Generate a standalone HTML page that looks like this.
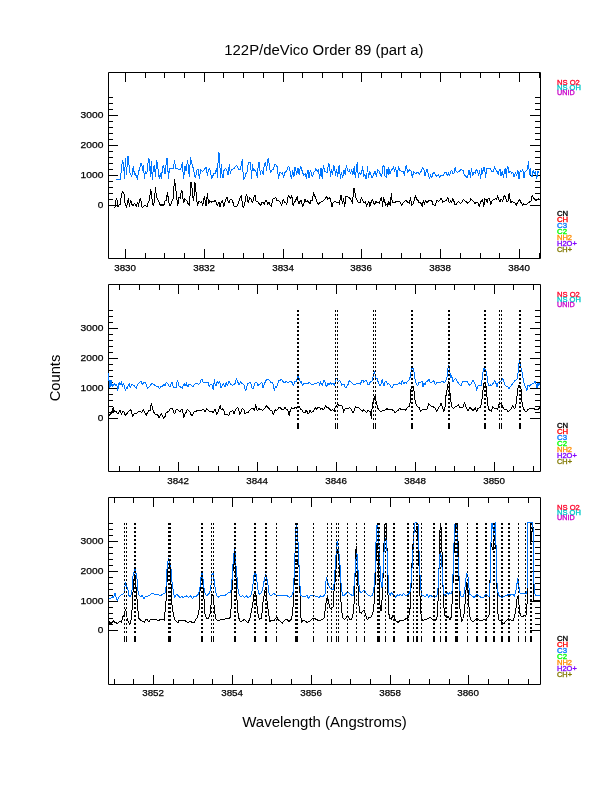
<!DOCTYPE html><html><head><meta charset="utf-8"><style>html,body{margin:0;padding:0;background:#fff;}svg{display:block;}</style></head><body>
<svg width="612" height="792" viewBox="0 0 612 792">
<rect width="612" height="792" fill="#fff"/>
<text x="323.9" y="54.6" font-family='"Liberation Sans", Helvetica, Arial, sans-serif' font-size="14.9" text-anchor="middle" fill="#000">122P/deVico Order 89 (part a)</text>
<text x="324.5" y="726.6" font-family='"Liberation Sans", Helvetica, Arial, sans-serif' font-size="15" text-anchor="middle" fill="#000">Wavelength (Angstroms)</text>
<text transform="translate(60.3,378) rotate(-90)" x="0" y="0" font-family='"Liberation Sans", Helvetica, Arial, sans-serif' font-size="14.7" text-anchor="middle" fill="#000">Counts</text>
<path d="M108.5,72.5H540.5V258.5H108.5Z" fill="none" stroke="#000" stroke-width="1"/><path d="M125.5,72.5v9.5M125.5,258.5v-9.5M145.5,72.5v5.5M145.5,258.5v-5.5M164.5,72.5v5.5M164.5,258.5v-5.5M184.5,72.5v5.5M184.5,258.5v-5.5M204.5,72.5v9.5M204.5,258.5v-9.5M223.5,72.5v5.5M223.5,258.5v-5.5M243.5,72.5v5.5M243.5,258.5v-5.5M263.5,72.5v5.5M263.5,258.5v-5.5M283.5,72.5v9.5M283.5,258.5v-9.5M302.5,72.5v5.5M302.5,258.5v-5.5M322.5,72.5v5.5M322.5,258.5v-5.5M342.5,72.5v5.5M342.5,258.5v-5.5M361.5,72.5v9.5M361.5,258.5v-9.5M381.5,72.5v5.5M381.5,258.5v-5.5M401.5,72.5v5.5M401.5,258.5v-5.5M420.5,72.5v5.5M420.5,258.5v-5.5M440.5,72.5v9.5M440.5,258.5v-9.5M460.5,72.5v5.5M460.5,258.5v-5.5M480.5,72.5v5.5M480.5,258.5v-5.5M499.5,72.5v5.5M499.5,258.5v-5.5M519.5,72.5v9.5M519.5,258.5v-9.5M539.5,72.5v5.5M539.5,258.5v-5.5M108.5,205.5h9.5M540.5,205.5h-10.5M108.5,199.5h4.5M540.5,199.5h-5.5M108.5,193.5h4.5M540.5,193.5h-5.5M108.5,187.5h4.5M540.5,187.5h-5.5M108.5,181.5h4.5M540.5,181.5h-5.5M108.5,175.5h9.5M540.5,175.5h-10.5M108.5,169.5h4.5M540.5,169.5h-5.5M108.5,163.5h4.5M540.5,163.5h-5.5M108.5,157.5h4.5M540.5,157.5h-5.5M108.5,151.5h4.5M540.5,151.5h-5.5M108.5,145.5h9.5M540.5,145.5h-10.5M108.5,139.5h4.5M540.5,139.5h-5.5M108.5,133.5h4.5M540.5,133.5h-5.5M108.5,127.5h4.5M540.5,127.5h-5.5M108.5,121.5h4.5M540.5,121.5h-5.5M108.5,115.5h9.5M540.5,115.5h-10.5M108.5,109.5h4.5M540.5,109.5h-5.5M108.5,103.5h4.5M540.5,103.5h-5.5M108.5,97.5h4.5M540.5,97.5h-5.5" fill="none" stroke="#000" stroke-width="1"/><text x="125.1" y="271.4" font-family='"Liberation Sans", Helvetica, Arial, sans-serif' font-size="9.8" text-anchor="middle" textLength="21.8" lengthAdjust="spacingAndGlyphs" stroke="#000" stroke-width="0.25">3830</text><text x="204.1" y="271.4" font-family='"Liberation Sans", Helvetica, Arial, sans-serif' font-size="9.8" text-anchor="middle" textLength="21.8" lengthAdjust="spacingAndGlyphs" stroke="#000" stroke-width="0.25">3832</text><text x="283.1" y="271.4" font-family='"Liberation Sans", Helvetica, Arial, sans-serif' font-size="9.8" text-anchor="middle" textLength="21.8" lengthAdjust="spacingAndGlyphs" stroke="#000" stroke-width="0.25">3834</text><text x="361.1" y="271.4" font-family='"Liberation Sans", Helvetica, Arial, sans-serif' font-size="9.8" text-anchor="middle" textLength="21.8" lengthAdjust="spacingAndGlyphs" stroke="#000" stroke-width="0.25">3836</text><text x="440.1" y="271.4" font-family='"Liberation Sans", Helvetica, Arial, sans-serif' font-size="9.8" text-anchor="middle" textLength="21.8" lengthAdjust="spacingAndGlyphs" stroke="#000" stroke-width="0.25">3838</text><text x="519.1" y="271.4" font-family='"Liberation Sans", Helvetica, Arial, sans-serif' font-size="9.8" text-anchor="middle" textLength="21.8" lengthAdjust="spacingAndGlyphs" stroke="#000" stroke-width="0.25">3840</text><text x="103.4" y="208.4" font-family='"Liberation Sans", Helvetica, Arial, sans-serif' font-size="9.8" text-anchor="end" textLength="5.6" lengthAdjust="spacingAndGlyphs" stroke="#000" stroke-width="0.25">0</text><text x="103.4" y="178.4" font-family='"Liberation Sans", Helvetica, Arial, sans-serif' font-size="9.8" text-anchor="end" textLength="22.8" lengthAdjust="spacingAndGlyphs" stroke="#000" stroke-width="0.25">1000</text><text x="103.4" y="148.4" font-family='"Liberation Sans", Helvetica, Arial, sans-serif' font-size="9.8" text-anchor="end" textLength="22.8" lengthAdjust="spacingAndGlyphs" stroke="#000" stroke-width="0.25">2000</text><text x="103.4" y="118.4" font-family='"Liberation Sans", Helvetica, Arial, sans-serif' font-size="9.8" text-anchor="end" textLength="22.8" lengthAdjust="spacingAndGlyphs" stroke="#000" stroke-width="0.25">3000</text>
<path d="M108.5,284.5H540.5V471.5H108.5Z" fill="none" stroke="#000" stroke-width="1"/><path d="M119.5,284.5v5.5M119.5,471.5v-5.5M139.5,284.5v5.5M139.5,471.5v-5.5M159.5,284.5v5.5M159.5,471.5v-5.5M178.5,284.5v9.5M178.5,471.5v-9.5M198.5,284.5v5.5M198.5,471.5v-5.5M218.5,284.5v5.5M218.5,471.5v-5.5M238.5,284.5v5.5M238.5,471.5v-5.5M257.5,284.5v9.5M257.5,471.5v-9.5M277.5,284.5v5.5M277.5,471.5v-5.5M297.5,284.5v5.5M297.5,471.5v-5.5M316.5,284.5v5.5M316.5,471.5v-5.5M336.5,284.5v9.5M336.5,471.5v-9.5M356.5,284.5v5.5M356.5,471.5v-5.5M376.5,284.5v5.5M376.5,471.5v-5.5M395.5,284.5v5.5M395.5,471.5v-5.5M415.5,284.5v9.5M415.5,471.5v-9.5M435.5,284.5v5.5M435.5,471.5v-5.5M454.5,284.5v5.5M454.5,471.5v-5.5M474.5,284.5v5.5M474.5,471.5v-5.5M494.5,284.5v9.5M494.5,471.5v-9.5M513.5,284.5v5.5M513.5,471.5v-5.5M533.5,284.5v5.5M533.5,471.5v-5.5M108.5,418.5h9.5M540.5,418.5h-10.5M108.5,412.5h4.5M540.5,412.5h-5.5M108.5,406.5h4.5M540.5,406.5h-5.5M108.5,400.5h4.5M540.5,400.5h-5.5M108.5,394.5h4.5M540.5,394.5h-5.5M108.5,388.5h9.5M540.5,388.5h-10.5M108.5,382.5h4.5M540.5,382.5h-5.5M108.5,376.5h4.5M540.5,376.5h-5.5M108.5,370.5h4.5M540.5,370.5h-5.5M108.5,364.5h4.5M540.5,364.5h-5.5M108.5,358.5h9.5M540.5,358.5h-10.5M108.5,352.5h4.5M540.5,352.5h-5.5M108.5,346.5h4.5M540.5,346.5h-5.5M108.5,340.5h4.5M540.5,340.5h-5.5M108.5,334.5h4.5M540.5,334.5h-5.5M108.5,328.5h9.5M540.5,328.5h-10.5M108.5,322.5h4.5M540.5,322.5h-5.5M108.5,316.5h4.5M540.5,316.5h-5.5M108.5,310.5h4.5M540.5,310.5h-5.5" fill="none" stroke="#000" stroke-width="1"/><text x="178.1" y="484.4" font-family='"Liberation Sans", Helvetica, Arial, sans-serif' font-size="9.8" text-anchor="middle" textLength="21.8" lengthAdjust="spacingAndGlyphs" stroke="#000" stroke-width="0.25">3842</text><text x="257.1" y="484.4" font-family='"Liberation Sans", Helvetica, Arial, sans-serif' font-size="9.8" text-anchor="middle" textLength="21.8" lengthAdjust="spacingAndGlyphs" stroke="#000" stroke-width="0.25">3844</text><text x="336.1" y="484.4" font-family='"Liberation Sans", Helvetica, Arial, sans-serif' font-size="9.8" text-anchor="middle" textLength="21.8" lengthAdjust="spacingAndGlyphs" stroke="#000" stroke-width="0.25">3846</text><text x="415.1" y="484.4" font-family='"Liberation Sans", Helvetica, Arial, sans-serif' font-size="9.8" text-anchor="middle" textLength="21.8" lengthAdjust="spacingAndGlyphs" stroke="#000" stroke-width="0.25">3848</text><text x="494.1" y="484.4" font-family='"Liberation Sans", Helvetica, Arial, sans-serif' font-size="9.8" text-anchor="middle" textLength="21.8" lengthAdjust="spacingAndGlyphs" stroke="#000" stroke-width="0.25">3850</text><text x="103.4" y="421.4" font-family='"Liberation Sans", Helvetica, Arial, sans-serif' font-size="9.8" text-anchor="end" textLength="5.6" lengthAdjust="spacingAndGlyphs" stroke="#000" stroke-width="0.25">0</text><text x="103.4" y="391.4" font-family='"Liberation Sans", Helvetica, Arial, sans-serif' font-size="9.8" text-anchor="end" textLength="22.8" lengthAdjust="spacingAndGlyphs" stroke="#000" stroke-width="0.25">1000</text><text x="103.4" y="361.4" font-family='"Liberation Sans", Helvetica, Arial, sans-serif' font-size="9.8" text-anchor="end" textLength="22.8" lengthAdjust="spacingAndGlyphs" stroke="#000" stroke-width="0.25">2000</text><text x="103.4" y="331.4" font-family='"Liberation Sans", Helvetica, Arial, sans-serif' font-size="9.8" text-anchor="end" textLength="22.8" lengthAdjust="spacingAndGlyphs" stroke="#000" stroke-width="0.25">3000</text>
<path d="M108.5,497.5H540.5V684.5H108.5Z" fill="none" stroke="#000" stroke-width="1"/><path d="M114.5,497.5v5.5M114.5,684.5v-5.5M133.5,497.5v5.5M133.5,684.5v-5.5M153.5,497.5v9.5M153.5,684.5v-9.5M173.5,497.5v5.5M173.5,684.5v-5.5M193.5,497.5v5.5M193.5,684.5v-5.5M212.5,497.5v5.5M212.5,684.5v-5.5M232.5,497.5v9.5M232.5,684.5v-9.5M252.5,497.5v5.5M252.5,684.5v-5.5M271.5,497.5v5.5M271.5,684.5v-5.5M291.5,497.5v5.5M291.5,684.5v-5.5M311.5,497.5v9.5M311.5,684.5v-9.5M331.5,497.5v5.5M331.5,684.5v-5.5M350.5,497.5v5.5M350.5,684.5v-5.5M370.5,497.5v5.5M370.5,684.5v-5.5M390.5,497.5v9.5M390.5,684.5v-9.5M409.5,497.5v5.5M409.5,684.5v-5.5M429.5,497.5v5.5M429.5,684.5v-5.5M449.5,497.5v5.5M449.5,684.5v-5.5M468.5,497.5v9.5M468.5,684.5v-9.5M488.5,497.5v5.5M488.5,684.5v-5.5M508.5,497.5v5.5M508.5,684.5v-5.5M528.5,497.5v5.5M528.5,684.5v-5.5M108.5,630.5h9.5M540.5,630.5h-10.5M108.5,624.5h4.5M540.5,624.5h-5.5M108.5,618.5h4.5M540.5,618.5h-5.5M108.5,613.5h4.5M540.5,613.5h-5.5M108.5,607.5h4.5M540.5,607.5h-5.5M108.5,601.5h9.5M540.5,601.5h-10.5M108.5,595.5h4.5M540.5,595.5h-5.5M108.5,589.5h4.5M540.5,589.5h-5.5M108.5,583.5h4.5M540.5,583.5h-5.5M108.5,577.5h4.5M540.5,577.5h-5.5M108.5,571.5h9.5M540.5,571.5h-10.5M108.5,565.5h4.5M540.5,565.5h-5.5M108.5,559.5h4.5M540.5,559.5h-5.5M108.5,553.5h4.5M540.5,553.5h-5.5M108.5,547.5h4.5M540.5,547.5h-5.5M108.5,541.5h9.5M540.5,541.5h-10.5M108.5,535.5h4.5M540.5,535.5h-5.5M108.5,529.5h4.5M540.5,529.5h-5.5M108.5,523.5h4.5M540.5,523.5h-5.5" fill="none" stroke="#000" stroke-width="1"/><text x="153.1" y="696.4" font-family='"Liberation Sans", Helvetica, Arial, sans-serif' font-size="9.8" text-anchor="middle" textLength="21.8" lengthAdjust="spacingAndGlyphs" stroke="#000" stroke-width="0.25">3852</text><text x="232.1" y="696.4" font-family='"Liberation Sans", Helvetica, Arial, sans-serif' font-size="9.8" text-anchor="middle" textLength="21.8" lengthAdjust="spacingAndGlyphs" stroke="#000" stroke-width="0.25">3854</text><text x="311.1" y="696.4" font-family='"Liberation Sans", Helvetica, Arial, sans-serif' font-size="9.8" text-anchor="middle" textLength="21.8" lengthAdjust="spacingAndGlyphs" stroke="#000" stroke-width="0.25">3856</text><text x="390.1" y="696.4" font-family='"Liberation Sans", Helvetica, Arial, sans-serif' font-size="9.8" text-anchor="middle" textLength="21.8" lengthAdjust="spacingAndGlyphs" stroke="#000" stroke-width="0.25">3858</text><text x="468.1" y="696.4" font-family='"Liberation Sans", Helvetica, Arial, sans-serif' font-size="9.8" text-anchor="middle" textLength="21.8" lengthAdjust="spacingAndGlyphs" stroke="#000" stroke-width="0.25">3860</text><text x="103.4" y="633.4" font-family='"Liberation Sans", Helvetica, Arial, sans-serif' font-size="9.8" text-anchor="end" textLength="5.6" lengthAdjust="spacingAndGlyphs" stroke="#000" stroke-width="0.25">0</text><text x="103.4" y="604.4" font-family='"Liberation Sans", Helvetica, Arial, sans-serif' font-size="9.8" text-anchor="end" textLength="22.8" lengthAdjust="spacingAndGlyphs" stroke="#000" stroke-width="0.25">1000</text><text x="103.4" y="574.4" font-family='"Liberation Sans", Helvetica, Arial, sans-serif' font-size="9.8" text-anchor="end" textLength="22.8" lengthAdjust="spacingAndGlyphs" stroke="#000" stroke-width="0.25">2000</text><text x="103.4" y="544.4" font-family='"Liberation Sans", Helvetica, Arial, sans-serif' font-size="9.8" text-anchor="end" textLength="22.8" lengthAdjust="spacingAndGlyphs" stroke="#000" stroke-width="0.25">3000</text>
<path d="M114.2,207.4L115.4,206.6L116.2,198.4L117.0,200.1L117.7,206.6L118.7,205.8L119.5,204.6L120.3,204.2L121.5,194.3L122.8,191.9L124.0,193.5L125.2,204.2L126.5,207.4L127.7,201.7L128.5,197.6L129.3,206.6L130.6,200.1L131.8,204.2L133.0,205.8L134.3,203.3L135.5,205.0L136.3,206.6L137.6,202.1L138.4,206.6L139.6,200.1L140.7,198.4L141.7,206.6L142.5,207.4L144.1,205.8L145.8,205.8L147.0,206.6L148.1,202.5L149.1,200.9L149.9,196.0L150.5,189.4L151.3,191.9L152.3,202.5L153.6,206.2L154.6,197.6L155.5,187.3L156.4,196.8L158.5,200.9L160.5,205.8L162.2,204.2L163.6,206.2L164.9,200.9L166.3,200.1L167.5,191.9L168.7,202.5L170.0,205.8L171.6,202.5L173.2,198.4L174.5,179.5L175.3,184.5L176.5,196.0L177.8,205.8L179.0,196.8L180.2,198.4L181.5,190.2L182.3,191.9L183.5,203.3L184.7,199.2L186.8,200.9L188.4,204.2L189.7,205.8L190.5,182.0L191.7,182.0L192.5,196.0L193.8,200.9L194.6,182.0L195.4,184.5L196.6,199.2L197.5,206.2L198.7,200.9L200.3,202.5L201.6,201.3L202.8,205.8L204.4,196.0L206.1,206.2L207.4,192.7L208.5,204.2L209.7,200.9L211.8,202.1L213.4,201.7L215.1,200.5L216.3,202.5L217.5,205.8L218.8,201.7L220.0,206.6L221.2,202.5L222.5,200.1L223.7,206.6L225.3,200.9L227.0,196.8L227.8,200.1L228.6,203.3L230.3,199.7L232.3,200.1L234.0,205.8L236.0,207.0L237.7,205.0L240.1,197.6L241.4,195.5L242.6,206.6L243.4,207.4L244.6,204.2L245.9,196.0L246.7,194.7L248.3,203.3L249.6,197.6L251.2,199.2L252.4,203.3L253.2,200.1L254.5,194.7L255.3,196.0L256.1,201.7L257.7,201.3L259.4,204.2L260.6,205.4L261.9,202.5L263.5,202.5L264.3,205.0L265.5,200.5L266.8,200.5L267.6,205.0L268.8,201.7L270.1,205.0L271.3,206.6L272.9,199.2L274.2,198.4L275.8,197.6L276.6,200.1L278.3,200.9L279.5,201.3L280.7,202.5L281.6,205.8L282.8,200.1L283.6,199.2L284.4,202.5L285.7,202.5L286.9,204.6L287.3,198.4L288.5,195.5L289.8,196.8L290.6,199.2L291.8,195.5L293.1,205.8L294.3,202.5L295.5,200.9L297.2,196.4L298.0,200.9L299.2,204.2L300.4,200.1L301.2,200.1L302.5,206.6L303.7,204.2L304.9,199.2L306.2,202.1L307.8,200.9L309.0,202.5L309.9,204.2L311.1,200.1L312.3,201.3L313.5,192.3L314.8,196.0L316.0,199.2L317.2,202.5L318.9,204.2L320.1,202.1L322.2,201.7L323.8,200.5L325.5,198.4L326.7,196.4L327.9,199.2L329.6,197.6L330.8,200.5L332.0,206.6L333.3,202.5L334.5,201.3L336.1,202.1L337.8,202.5L339.0,202.1L339.4,204.6L340.6,196.0L341.5,195.1L342.3,204.2L343.5,198.4L344.7,206.6L346.0,196.0L347.2,196.0L348.4,197.6L349.2,197.6L350.5,199.2L351.7,200.9L352.5,203.8L353.7,188.2L354.6,188.2L355.4,196.8L357.0,200.1L358.3,202.5L360.3,202.1L361.5,197.6L362.8,200.9L364.0,202.5L365.7,201.7L366.5,206.6L367.7,203.3L368.9,200.9L369.8,206.6L371.0,202.5L372.2,199.2L373.5,202.5L374.7,205.0L375.9,200.9L377.1,202.5L378.4,202.5L379.6,203.3L380.4,198.4L381.7,197.6L382.5,206.6L383.5,197.6L384.5,200.9L385.8,205.0L387.2,204.2L387.8,206.6L388.6,201.7L389.5,202.5L390.3,205.8L391.3,193.1L392.3,202.5L394.0,202.5L396.4,201.7L397.6,201.7L399.3,201.3L400.5,202.5L401.7,205.4L403.0,202.9L404.2,201.7L405.7,200.1L407.1,201.7L408.3,202.5L409.5,203.3L410.6,197.2L411.6,205.4L412.8,204.2L414.1,200.9L415.7,195.1L416.5,199.2L417.8,200.1L419.0,202.5L420.6,202.5L422.3,206.6L423.5,199.7L424.3,204.6L425.6,199.7L426.8,202.5L428.4,200.9L429.7,200.5L431.7,200.5L432.9,204.2L433.9,205.0L435.4,205.0L436.6,200.5L438.3,201.3L439.5,200.9L440.7,198.4L442.0,199.7L442.8,202.1L444.4,201.7L445.2,200.9L446.5,200.1L447.7,197.2L448.5,200.1L449.3,203.3L450.6,200.9L451.8,202.5L452.6,198.4L453.4,199.2L454.7,204.2L456.3,204.2L457.5,202.5L458.8,201.3L460.0,203.3L461.7,202.9L463.3,199.2L464.5,200.9L466.2,201.7L467.8,203.3L469.5,201.7L470.7,199.2L472.3,200.5L473.6,201.3L474.8,204.2L476.0,202.5L477.7,202.5L479.3,206.6L480.5,202.5L481.8,200.1L482.6,199.2L483.8,206.6L484.6,198.8L485.9,199.2L487.1,202.5L488.3,198.4L489.6,198.4L490.8,205.0L492.0,200.9L493.6,199.7L495.3,198.8L496.5,199.2L497.7,195.5L498.6,199.2L499.8,202.1L501.0,198.8L502.7,201.3L504.3,195.5L505.5,196.8L506.8,201.3L508.0,201.3L509.2,193.1L510.5,202.5L512.1,201.7L513.3,202.1L514.6,202.5L516.2,205.4L517.5,202.5L519.5,199.2L520.7,202.1L522.4,205.0L523.6,203.8L525.3,205.0L526.5,204.6L528.1,202.9L529.8,201.7L531.4,200.9L532.2,194.7L533.5,198.4L534.7,199.2L536.3,200.9L538.0,198.8L539.5,197.6" fill="none" stroke="#000" stroke-width="1" stroke-linejoin="miter" stroke-miterlimit="2" shape-rendering="crispEdges"/>
<path d="M116.2,179.5L120.3,179.5L121.5,168.1L122.5,160.3L123.6,163.1L124.4,178.7L125.5,158.2L126.5,174.6L127.7,156.2L128.5,156.2L129.2,168.1L130.2,173.8L131.8,176.7L132.6,169.7L133.5,166.0L134.3,174.6L135.1,173.0L136.3,176.3L137.4,179.5L138.5,171.3L139.9,168.9L140.4,163.1L141.7,163.1L142.5,170.5L143.3,165.2L144.5,178.7L145.4,171.3L146.6,173.8L147.4,170.5L148.4,158.2L149.5,160.3L150.3,177.1L151.3,161.1L152.3,179.5L153.6,166.4L154.4,166.0L155.5,177.1L156.6,160.3L157.2,162.3L158.1,169.7L159.3,179.1L160.5,173.0L161.3,179.1L162.6,167.2L163.6,165.2L165.0,173.8L166.7,158.2L167.5,158.2L168.3,179.1L169.5,168.9L171.6,168.5L173.2,168.9L174.5,160.3L175.7,168.9L176.9,168.5L178.2,169.3L180.6,169.7L182.3,162.3L183.5,179.1L185.1,165.6L186.0,171.3L187.6,160.3L189.3,177.1L190.5,157.4L192.1,164.4L193.4,168.9L195.4,178.3L197.1,169.3L198.3,169.7L199.3,179.1L200.7,169.3L202.4,171.7L204.4,169.7L205.6,167.2L206.5,167.6L207.4,176.3L208.5,169.3L209.6,168.5L210.6,171.3L211.4,179.1L212.6,176.3L213.9,173.8L215.1,173.4L216.2,169.3L216.7,168.5L217.5,177.5L218.4,152.5L219.4,153.3L220.4,177.5L221.4,164.4L222.2,177.1L223.3,177.1L224.1,169.7L225.5,168.5L226.8,170.5L228.0,175.0L229.3,164.4L230.3,173.8L231.5,169.7L233.6,168.9L235.2,166.8L236.4,165.2L237.3,166.4L238.5,169.7L240.1,169.3L241.4,164.8L242.4,159.4L243.4,179.1L244.6,178.7L245.9,173.8L247.1,172.2L248.3,162.3L250.6,162.3L251.5,179.1L252.4,164.4L253.6,171.3L254.9,169.7L256.1,172.2L257.3,177.5L258.4,162.7L259.6,162.3L260.2,174.6L261.4,169.7L262.3,172.2L263.1,174.6L263.9,167.6L264.7,163.1L265.5,162.3L266.6,171.3L267.4,160.3L268.4,158.2L269.2,164.4L270.5,172.6L272.1,169.7L273.3,169.3L274.6,164.4L275.8,164.8L277.5,167.2L278.4,179.1L279.9,171.7L281.6,174.2L282.4,171.7L283.6,177.5L284.8,172.2L286.5,171.7L288.1,166.4L289.4,167.2L290.6,174.6L291.6,179.1L292.6,169.7L293.9,177.1L294.7,167.6L295.5,167.6L296.7,175.0L298.0,168.1L299.2,175.4L300.4,166.4L301.2,167.6L302.5,172.2L303.7,175.0L305.3,173.8L306.4,179.1L307.4,171.3L308.2,169.7L309.0,177.9L310.3,170.5L311.5,173.0L312.3,177.1L313.5,173.0L314.8,171.3L315.8,168.5L317.2,171.3L318.5,169.7L319.7,179.1L320.9,167.6L322.2,178.7L323.4,164.8L324.6,171.3L325.9,171.7L327.5,173.0L328.3,163.5L329.6,165.2L330.5,177.1L331.6,169.3L332.4,175.0L333.7,165.6L334.5,166.4L335.5,176.3L336.5,169.3L337.8,176.7L338.6,167.6L339.4,165.6L340.4,179.1L341.5,172.2L342.7,178.3L343.9,170.1L345.2,174.6L346.4,164.8L347.6,170.9L348.9,171.7L349.2,168.9L350.5,174.2L351.7,169.3L352.9,174.6L354.2,166.4L355.4,178.3L356.6,166.0L357.4,162.3L358.3,178.3L359.5,171.7L360.7,174.6L362.0,170.5L362.6,166.0L363.6,177.1L364.8,174.6L365.7,178.3L366.5,179.1L367.5,166.4L368.5,178.3L369.5,171.3L370.6,173.0L371.8,178.3L373.5,174.6L375.1,171.3L376.3,176.7L377.7,169.7L378.8,170.5L380.4,174.6L381.7,176.3L383.1,165.6L384.1,166.4L384.9,175.9L386.2,177.5L387.0,168.9L388.2,174.6L388.6,167.2L389.9,173.8L391.1,170.5L392.7,168.9L393.6,166.4L394.4,172.2L395.6,167.2L396.9,176.3L397.2,176.3L398.5,166.4L399.3,169.7L400.5,170.9L401.7,171.3L403.4,171.7L404.6,175.4L405.4,167.6L406.5,165.2L407.5,173.0L408.7,170.5L410.0,169.7L411.2,171.3L412.4,177.5L413.7,171.3L415.3,173.4L416.5,173.0L417.8,172.2L419.4,174.2L420.6,172.2L421.9,169.7L422.7,167.2L423.9,169.3L425.1,176.3L426.4,169.7L427.2,169.7L428.4,174.6L429.5,179.1L430.5,174.6L431.7,177.9L432.9,173.8L433.9,172.2L435.0,173.8L436.2,176.3L437.5,175.4L438.7,174.2L439.5,178.3L440.7,175.4L442.0,175.9L443.2,175.4L444.4,173.8L445.2,172.2L446.5,173.0L447.7,176.3L448.5,172.2L449.6,176.3L450.6,171.7L451.6,169.7L452.6,173.8L453.9,173.8L455.1,167.2L456.3,171.7L457.5,172.2L459.2,171.3L461.2,169.3L463.3,170.9L464.5,175.4L465.8,176.3L467.4,178.3L468.6,170.9L469.5,170.1L470.3,177.5L471.5,168.1L472.7,176.3L474.0,171.7L475.2,173.0L476.4,169.3L477.7,171.3L478.5,175.9L479.7,170.1L480.5,179.1L481.8,168.1L482.6,173.8L483.4,167.6L484.6,167.2L485.5,178.3L486.7,168.1L488.3,168.1L490.0,168.5L491.6,171.3L493.6,171.7L494.6,166.4L495.7,169.7L496.9,171.3L498.2,174.6L499.4,169.7L500.2,169.3L501.0,176.3L502.3,171.3L503.5,178.3L504.7,169.3L505.5,168.5L506.4,178.3L507.2,166.4L508.0,167.2L508.8,173.0L510.1,171.3L511.7,173.0L512.9,172.2L514.2,177.1L515.4,172.2L516.6,175.4L517.9,170.5L519.1,179.1L520.3,169.7L521.6,172.2L522.8,169.7L524.0,178.3L524.8,172.2L526.1,170.9L527.3,169.7L528.5,161.1L529.4,175.4L530.2,168.5L531.0,174.6L532.2,177.1L533.1,170.5L534.3,173.4L535.5,171.3L536.7,179.1L538.0,170.9L539.2,173.0" fill="none" stroke="#0076ff" stroke-width="1" stroke-linejoin="miter" stroke-miterlimit="2" shape-rendering="crispEdges"/>
<path d="M108.8,415.8L110.1,414.2L111.7,412.9L112.5,409.2L113.3,407.2L113.9,412.5L114.6,410.9L116.2,411.7L117.9,413.8L119.5,411.3L120.3,410.1L121.5,414.6L122.8,411.3L124.0,412.1L125.2,415.4L126.5,414.2L127.7,412.5L129.3,410.9L130.6,409.2L131.8,412.9L132.6,416.6L133.9,414.2L135.1,413.3L136.7,413.3L138.0,412.1L140.0,411.3L141.7,412.5L143.3,409.2L144.5,411.7L146.2,415.4L147.4,412.5L149.1,410.5L150.3,410.1L151.3,403.1L152.3,407.6L153.2,410.9L154.4,413.3L155.6,414.2L157.6,414.6L159.3,418.3L160.5,415.0L161.3,413.8L162.6,415.8L163.8,418.3L165.0,416.6L166.3,412.5L168.3,411.7L170.4,408.8L172.4,408.8L174.5,413.8L176.5,409.2L178.2,410.1L179.8,411.7L181.5,409.2L182.7,409.2L183.5,418.3L184.7,414.2L186.0,412.5L187.2,409.2L188.4,410.5L189.7,411.3L190.9,414.2L192.1,415.8L194.2,411.7L195.8,411.3L197.9,410.5L199.5,410.1L202.0,410.1L203.6,409.2L205.2,411.7L206.5,408.4L207.7,409.7L208.9,410.9L210.6,411.7L212.2,411.3L213.4,412.9L214.3,410.1L215.5,409.2L216.7,415.0L218.0,411.7L219.2,408.4L220.4,405.1L221.2,409.7L222.5,408.8L223.7,410.1L224.9,414.2L226.6,414.6L227.8,415.0L229.0,415.0L230.3,411.3L231.5,411.7L232.7,410.5L234.0,413.8L235.2,410.1L236.4,408.4L237.7,407.2L238.9,410.9L239.7,415.0L240.9,412.5L242.2,408.8L243.8,409.2L245.1,414.2L246.7,412.5L248.3,412.5L250.0,409.7L251.6,408.8L253.2,408.8L254.5,411.3L255.7,404.3L256.5,407.6L257.3,411.3L258.6,408.4L259.8,409.2L261.0,409.7L262.7,410.5L263.9,409.2L265.1,407.6L266.4,405.5L267.6,407.2L269.2,408.4L270.5,410.9L271.7,410.1L273.3,415.0L274.2,412.5L275.4,409.7L276.6,410.1L277.9,409.7L278.7,407.6L279.9,407.6L281.6,409.2L282.8,410.1L284.0,408.8L285.3,406.8L286.1,409.7L287.3,409.7L288.5,412.5L289.4,416.2L290.2,410.1L291.4,408.0L292.6,408.8L293.9,408.4L295.1,407.6L296.3,408.4L297.6,406.8L299.2,406.8L300.4,408.8L301.6,409.7L303.3,412.1L304.9,412.9L306.2,409.7L307.4,412.5L308.6,414.2L309.9,410.1L311.5,412.5L313.1,411.3L315.2,407.6L316.4,409.2L318.1,407.6L319.7,407.6L320.9,409.2L322.2,408.0L323.4,410.1L324.6,407.6L325.9,405.5L327.1,407.6L328.3,407.6L329.6,409.2L331.2,410.5L332.4,409.7L333.7,410.9L334.5,411.3L335.3,406.8L336.5,406.0L337.8,403.5L338.6,405.1L340.2,406.0L341.5,405.5L342.7,406.8L343.5,412.5L344.7,409.2L346.0,408.8L347.6,408.8L349.3,407.6L350.7,408.9L352.0,410.7L353.3,413.3L354.6,409.8L355.5,406.3L356.8,408.0L358.6,407.6L359.9,408.9L361.3,410.2L362.6,411.1L363.9,409.8L365.2,411.1L366.6,412.4L367.9,410.7L369.6,411.1L370.5,411.6L371.4,418.6L372.3,404.5L373.6,399.2L374.5,399.2L375.4,394.3L375.8,400.1L376.7,403.2L377.6,407.6L378.5,409.4L379.8,410.7L381.1,411.6L382.5,410.7L384.2,410.7L385.5,409.8L386.9,408.5L388.6,409.8L390.4,409.4L392.2,409.8L393.9,410.7L395.3,412.9L396.6,411.1L397.9,410.6L399.3,408.7L401.2,409.2L403.1,409.2L405.5,410.1L406.9,408.2L408.3,406.8L409.7,405.9L410.2,401.1L410.7,390.7L411.6,386.0L413.0,386.0L414.0,390.7L414.5,395.5L415.4,403.0L416.4,404.9L417.8,406.8L419.2,407.3L420.6,411.6L422.0,409.7L423.5,409.2L424.9,410.1L426.8,409.2L427.7,406.8L428.7,403.5L430.1,404.9L431.5,406.3L432.9,406.8L434.4,407.3L435.8,409.2L436.7,411.6L437.7,409.7L438.6,407.8L440.0,405.9L441.0,403.5L441.9,405.9L442.9,407.8L443.3,411.6L444.3,410.6L445.1,406.8L446.4,390.7L447.3,389.8L448.3,381.2L449.2,382.2L449.9,393.6L450.6,393.6L451.1,404.0L452.0,406.8L453.5,408.2L455.4,406.8L456.8,406.3L458.2,404.9L459.6,407.3L461.5,407.3L462.9,407.8L464.4,402.6L465.3,404.9L466.7,408.7L468.1,410.6L470.0,407.3L471.5,409.2L473.4,410.6L475.2,407.3L476.7,411.6L478.1,408.2L480.0,407.8L481.4,404.0L482.4,395.5L483.3,387.9L484.2,382.2L485.7,382.7L486.6,392.6L487.6,403.0L488.5,409.7L489.9,410.1L491.3,411.1L492.8,406.8L494.0,408.1L496.0,408.6L497.6,409.6L498.6,405.6L499.6,403.1L500.6,403.6L502.1,405.6L503.6,408.6L505.1,409.6L506.6,409.6L508.2,411.7L509.7,410.7L511.2,408.6L512.7,405.6L513.7,407.6L514.7,409.1L516.2,403.6L517.3,393.5L518.3,386.4L519.3,385.4L520.8,387.4L521.5,392.5L522.1,403.6L523.3,408.6L524.8,410.7L526.3,411.7L527.9,409.6L529.4,408.6L531.4,408.6L533.4,408.1L535.4,409.6L537.5,409.6L539.0,408.6L539.7,407.6" fill="none" stroke="#000" stroke-width="1" stroke-linejoin="miter" stroke-miterlimit="2" shape-rendering="crispEdges"/>
<path d="M108.8,373.1L109.2,387.9L110.1,379.7L110.9,387.1L111.4,380.5L112.1,387.1L112.9,383.8L113.7,385.4L114.6,383.0L115.4,386.3L116.2,383.8L117.0,386.3L117.7,391.2L118.3,387.9L119.1,382.2L119.9,384.6L120.7,383.8L121.5,381.3L122.4,387.1L123.2,383.4L124.0,384.6L124.8,387.9L125.4,391.2L126.2,387.9L127.3,388.7L128.5,384.6L129.3,383.4L130.2,387.9L131.4,384.6L132.6,385.0L133.9,385.4L135.1,387.1L136.3,388.3L137.6,384.6L138.8,383.4L140.0,381.7L141.3,381.3L142.5,385.0L143.7,382.2L145.4,382.2L146.6,386.3L147.8,388.3L149.1,387.1L150.7,385.0L152.3,383.4L154.0,384.6L155.6,385.9L158.5,386.7L159.7,389.1L160.9,386.3L162.6,386.3L163.8,383.8L165.0,386.3L166.3,382.2L167.5,383.4L169.1,386.3L170.4,386.3L171.6,382.6L172.4,382.6L173.4,387.5L176.1,387.5L176.5,384.6L177.5,380.1L178.2,382.2L179.0,386.3L180.6,387.1L182.3,388.3L183.5,384.6L184.3,383.8L185.1,386.3L186.4,382.6L187.2,386.3L188.0,387.1L188.8,384.6L190.1,384.6L191.3,385.0L192.9,387.1L194.2,384.6L195.8,383.4L197.1,383.8L198.7,384.2L199.9,383.0L201.2,379.7L202.4,379.7L203.2,382.2L205.6,382.2L206.9,383.0L208.1,382.6L209.3,386.3L210.6,384.2L211.8,384.6L212.6,387.9L213.4,390.4L214.3,379.3L215.1,384.6L215.9,386.3L217.1,381.3L218.4,383.4L219.6,381.7L221.2,388.3L222.5,384.6L223.7,383.8L224.9,387.1L225.8,383.4L226.6,382.6L227.4,386.3L228.6,381.3L229.5,381.7L230.3,384.2L231.5,384.6L232.7,385.4L234.0,384.2L235.2,383.8L236.4,378.5L237.7,380.9L238.5,385.0L239.7,383.8L240.5,381.7L241.8,383.8L243.0,383.8L244.2,385.0L245.5,391.2L246.7,387.1L247.9,383.8L249.6,382.2L250.8,383.4L252.0,387.9L253.2,388.7L254.5,383.8L255.7,382.2L256.9,383.0L257.7,386.3L258.6,385.0L259.8,384.2L261.0,383.0L261.9,382.2L262.7,387.1L263.5,387.1L264.7,383.0L266.0,380.5L267.2,379.3L268.4,379.3L269.7,380.9L270.9,382.2L272.5,382.6L273.3,384.6L274.3,390.4L275.4,386.3L276.6,387.1L277.5,384.6L278.7,380.9L279.9,380.5L281.1,379.3L282.4,380.5L283.6,382.2L285.3,382.2L286.5,381.3L288.1,383.0L289.4,381.7L290.6,381.3L291.8,382.2L293.5,385.4L294.7,381.3L296.3,381.3L297.6,376.8L298.4,376.4L299.6,380.1L300.4,382.2L301.2,381.7L302.5,385.4L303.7,383.8L305.7,383.8L308.2,383.4L309.4,382.2L311.1,384.2L313.1,384.2L315.2,383.8L316.4,383.4L317.7,382.2L318.9,382.6L319.7,385.4L320.5,381.3L321.8,384.6L322.6,386.3L323.4,380.5L324.6,380.1L325.5,384.6L326.7,386.7L327.9,383.0L329.1,384.6L330.4,382.6L331.6,384.2L332.8,383.0L334.1,385.4L335.3,382.2L336.1,378.5L337.4,378.5L338.2,382.2L339.4,380.5L340.6,381.7L341.5,385.0L342.7,384.2L344.3,384.6L345.6,388.3L346.8,386.3L348.0,384.6L349.3,380.6L351.1,382.0L353.3,384.2L355.1,384.2L356.8,383.7L359.0,383.3L360.4,384.2L361.7,380.6L363.0,380.6L363.9,382.4L365.2,380.6L366.6,380.6L367.4,384.2L369.2,384.2L370.5,381.5L371.9,381.1L372.7,378.4L373.6,375.3L374.5,371.4L375.4,375.3L375.8,378.0L377.2,378.4L378.0,381.5L379.4,385.1L380.7,385.5L381.6,381.5L382.5,379.3L383.3,385.1L384.2,385.9L385.1,381.5L386.4,381.5L387.3,384.2L388.2,383.3L389.5,384.2L390.8,386.8L392.2,387.7L393.5,384.6L395.7,384.2L397.9,384.1L399.8,382.7L401.2,384.1L402.4,380.3L403.6,383.6L405.0,382.7L406.4,383.1L407.8,381.2L409.3,379.4L410.2,377.0L411.0,371.8L411.6,368.5L413.0,368.5L414.0,372.3L414.8,377.9L415.4,381.2L416.4,383.6L417.6,386.0L418.7,382.7L420.6,382.2L422.0,381.2L423.0,386.9L423.9,383.1L424.9,385.0L426.3,381.7L427.7,380.8L429.0,379.4L430.1,382.2L431.0,383.1L432.5,381.7L433.9,380.8L435.3,385.0L436.7,382.7L438.6,382.7L440.5,382.2L442.4,381.2L444.3,382.7L445.4,381.7L446.8,378.4L447.6,371.8L448.3,365.2L449.2,368.0L449.9,371.8L450.6,378.4L451.6,375.6L453.0,382.2L453.9,380.3L455.4,378.4L456.8,380.3L458.2,382.7L459.6,384.6L461.0,385.5L462.5,382.2L463.4,381.2L465.3,381.2L466.7,381.2L468.1,383.1L469.6,385.5L471.5,383.1L472.9,380.3L474.3,382.7L475.7,385.5L476.7,390.7L477.6,386.9L478.6,385.5L480.0,386.0L481.4,385.0L482.4,377.5L483.3,369.4L484.2,368.0L485.7,370.8L486.6,371.8L487.6,381.2L488.5,385.5L490.4,385.0L491.8,385.5L492.8,383.1L493.0,384.4L494.5,380.4L496.0,383.4L497.1,387.4L498.1,382.4L499.6,381.4L501.1,380.9L502.6,378.8L503.6,379.8L504.6,384.4L506.1,385.9L507.7,386.4L508.7,388.9L510.2,386.9L511.7,384.9L513.2,382.9L514.7,380.9L516.2,379.8L517.3,378.8L518.1,372.3L518.8,364.2L519.5,360.2L520.3,363.7L521.1,368.2L521.8,370.3L522.8,377.3L524.3,384.4L525.8,387.4L526.8,390.5L527.9,385.4L529.4,386.4L530.9,384.4L532.4,383.9L533.9,382.9L534.9,381.4L535.9,383.4L536.9,388.4L538.0,382.9L539.0,385.4L539.7,383.4" fill="none" stroke="#0076ff" stroke-width="1" stroke-linejoin="miter" stroke-miterlimit="2" shape-rendering="crispEdges"/>
<path d="M108.5,621.0L108.9,624.1L109.4,621.4L109.8,624.1L110.3,621.8L111.0,623.6L112.3,622.4L113.6,620.5L114.5,622.4L116.1,622.7L117.4,623.6L118.6,622.4L119.9,621.5L121.5,622.0L122.1,619.5L123.0,616.6L124.0,615.5L124.9,611.4L125.6,609.1L126.4,613.6L127.3,619.3L128.5,621.6L129.6,625.0L130.7,622.7L131.9,613.6L132.4,600.0L133.6,584.1L134.4,574.4L135.3,575.0L135.8,584.1L137.0,598.9L137.8,608.0L138.5,618.2L139.8,619.3L141.0,620.5L142.7,621.6L144.4,622.2L146.1,619.3L147.5,620.0L149.0,622.3L150.5,619.2L153.6,619.2L156.6,620.0L159.6,620.0L161.9,619.2L164.2,620.0L165.4,607.9L166.5,595.8L167.2,577.6L168.0,565.5L168.7,563.2L169.9,565.5L171.0,583.6L172.1,606.4L173.3,613.9L174.8,620.0L176.3,621.5L177.8,623.0L179.3,620.0L181.6,620.8L183.9,620.0L186.3,621.5L187.8,623.0L190.1,621.5L192.3,622.3L193.8,623.0L195.4,620.0L197.6,617.0L199.2,609.4L199.9,592.7L201.0,579.1L201.9,576.1L202.9,580.6L204.0,598.8L204.9,613.9L206.7,618.5L208.2,618.5L209.8,615.5L211.0,604.8L212.0,594.2L213.1,595.8L214.3,607.9L215.5,618.5L217.3,620.0L220.4,620.0L224.3,619.2L226.5,618.5L228.8,618.5L230.3,617.0L231.4,604.8L232.3,583.6L233.4,563.9L234.1,553.3L235.3,567.0L236.4,583.6L237.2,604.8L238.4,617.0L240.2,621.5L242.5,620.8L244.7,619.2L246.2,621.5L247.8,623.0L250.0,618.5L251.5,610.9L253.1,601.8L254.1,592.7L255.0,591.2L256.1,595.8L257.2,607.9L258.4,617.0L259.9,619.2L261.5,618.5L263.0,601.8L264.5,592.7L265.8,586.7L266.8,598.8L268.3,610.9L269.8,621.5L272.1,620.0L274.4,620.0L276.7,617.0L278.2,620.0L280.5,621.5L282.4,623.0L284.2,620.8L286.5,619.2L288.8,621.5L291.1,619.2L292.7,612.9L293.5,597.1L294.2,581.3L295.0,562.3L296.3,560.8L297.9,562.3L299.0,567.1L299.8,586.0L300.5,609.7L301.3,622.3L302.9,620.7L304.8,620.8L307.1,622.3L309.4,621.5L311.6,619.2L313.9,618.5L316.2,619.2L318.5,620.8L320.7,620.0L323.0,619.2L324.5,617.0L325.6,604.8L326.8,598.8L327.7,597.3L328.6,601.8L329.8,607.9L331.3,609.4L333.2,606.4L334.3,585.8L335.4,579.6L336.5,558.1L337.7,548.8L338.9,559.6L340.0,576.5L340.8,598.1L341.5,610.4L343.1,618.1L344.6,619.7L346.2,618.1L347.7,615.0L349.2,618.9L351.5,619.7L353.1,613.5L354.3,601.2L355.8,550.3L356.4,546.5L357.3,565.5L357.9,583.6L358.8,604.8L359.8,612.4L361.4,613.2L362.9,610.9L364.4,610.9L365.9,615.5L367.4,620.0L368.9,617.0L371.2,617.0L372.7,613.9L373.9,606.4L375.0,585.2L376.1,559.4L377.0,542.7L378.0,550.3L379.1,580.6L380.0,604.8L381.1,610.9L382.6,592.7L383.6,557.9L384.5,524.5L386.1,523.8L387.1,550.3L387.9,591.2L388.3,604.8L389.3,618.5L391.3,619.2L392.8,615.5L394.3,617.0L395.8,620.8L398.1,622.3L400.4,620.0L402.7,620.8L404.9,619.2L407.2,618.5L408.7,617.0L409.9,610.9L411.0,588.2L412.1,560.9L413.3,538.2L414.5,529.1L415.5,532.1L417.1,526.1L418.1,542.7L419.0,565.5L420.1,598.8L421.2,617.0L422.4,620.8L423.9,620.0L426.3,619.2L428.5,618.5L430.1,617.0L431.6,618.5L433.4,620.0L435.4,620.0L436.9,619.2L437.9,604.8L438.8,577.6L439.8,533.6L440.4,523.0L441.4,529.1L442.2,557.9L442.9,583.6L443.7,604.8L444.9,615.5L446.7,617.7L448.2,616.2L449.8,620.0L451.3,617.0L452.5,595.8L453.5,571.5L454.3,542.7L455.5,526.1L457.0,524.5L458.1,542.7L459.2,588.2L460.1,610.9L461.6,621.5L463.5,618.5L464.7,607.9L465.8,592.7L466.8,582.1L467.8,586.7L468.8,604.8L469.9,617.0L471.4,620.8L473.4,621.5L475.3,620.0L477.2,618.5L478.7,620.0L480.9,620.8L483.2,620.0L485.5,619.2L487.8,617.7L489.3,613.9L490.0,580.6L490.8,542.7L492.0,547.3L493.1,550.3L494.1,539.7L495.3,536.7L496.1,550.3L496.8,580.6L497.6,610.9L498.7,620.0L500.6,620.8L502.3,623.0L504.5,623.0L506.8,620.0L508.3,618.5L510.6,620.0L512.9,620.8L514.4,617.0L515.9,609.4L517.4,595.8L518.5,597.3L519.4,610.9L520.5,615.5L522.0,617.0L524.3,615.5L525.5,615.5L526.7,613.9L527.3,595.8L527.4,522.4L530.5,522.4L530.8,543.9L531.5,535.0L533.1,527.0L533.4,600.0L539.6,600.0" fill="none" stroke="#000" stroke-width="1" stroke-linejoin="miter" stroke-miterlimit="2" shape-rendering="crispEdges"/>
<path d="M108.5,599.5L109.8,598.2L111.0,598.0L112.3,596.4L113.3,598.2L114.5,594.8L115.0,593.2L115.7,596.7L116.4,598.2L117.3,600.5L118.2,598.5L119.6,596.4L121.1,595.1L122.4,594.5L124.0,593.2L124.6,588.8L125.6,581.8L126.2,584.7L126.8,586.4L127.9,589.8L129.0,595.5L130.2,596.6L131.3,594.3L132.4,587.5L133.2,572.7L133.9,572.2L134.7,569.3L135.3,569.9L135.8,574.4L136.6,572.7L137.3,583.0L138.1,592.0L139.2,595.5L141.0,596.6L142.1,595.5L143.8,598.9L145.5,596.6L147.5,596.5L149.8,595.0L152.1,593.5L154.3,594.2L156.6,594.2L158.9,595.0L160.4,595.8L162.7,594.2L164.9,593.5L166.0,586.7L166.9,570.0L167.5,563.9L168.4,558.6L169.5,559.4L170.2,563.9L171.0,568.5L171.8,580.6L172.5,585.2L173.6,592.7L174.5,598.0L175.5,595.8L177.1,594.2L178.6,596.5L180.1,597.3L181.6,596.5L183.1,597.3L186.3,595.8L188.5,597.3L190.8,595.8L192.3,598.8L193.8,596.5L196.1,596.5L198.4,594.2L199.9,588.2L201.0,577.6L201.9,573.0L202.9,577.6L204.0,588.2L205.2,594.2L206.7,595.8L208.2,594.2L209.8,592.7L211.0,585.2L212.0,574.5L213.1,573.0L214.3,580.6L215.4,589.7L216.6,595.8L218.1,597.3L220.4,595.8L224.3,595.8L226.5,594.2L228.8,592.7L230.8,592.0L231.8,583.6L232.6,568.5L233.8,554.8L234.6,549.5L235.3,553.3L235.9,565.5L236.5,570.0L237.5,583.6L238.4,592.7L240.2,596.5L242.5,595.8L244.7,597.3L246.2,595.8L247.8,597.3L250.0,596.5L251.5,594.2L253.1,583.6L254.1,574.5L255.0,573.0L256.1,574.5L257.2,583.6L258.4,592.7L259.9,594.2L261.5,592.7L263.0,586.7L264.5,579.1L265.8,573.8L266.8,577.6L267.9,583.6L268.8,592.7L270.3,595.8L272.1,595.0L273.9,593.5L275.9,595.0L278.2,595.8L280.5,595.8L282.7,595.0L285.0,595.0L287.3,595.8L289.5,597.3L291.8,595.8L293.1,592.3L293.8,582.9L294.7,562.3L295.8,530.8L296.6,523.7L297.4,530.8L298.2,545.0L299.1,567.1L300.1,587.6L301.0,595.5L302.9,596.3L304.8,596.5L307.1,595.8L308.6,598.8L310.1,595.8L312.4,595.0L314.7,595.8L316.9,596.5L319.2,597.3L320.7,595.8L323.0,596.5L325.0,594.2L325.6,583.6L326.5,577.6L327.5,580.6L329.1,586.7L331.3,589.7L333.6,589.7L335.4,564.2L336.9,542.6L337.7,541.1L338.5,553.4L339.5,555.0L340.5,575.0L341.5,590.4L343.1,595.8L344.6,595.0L346.2,593.5L347.7,591.9L349.2,593.5L351.5,595.0L353.1,595.0L354.3,582.7L355.8,562.4L356.4,553.3L357.3,554.8L357.9,568.5L358.8,583.6L359.8,591.2L361.4,592.7L362.9,591.2L364.4,590.5L365.9,592.7L368.2,595.0L370.5,596.5L372.7,595.0L373.9,588.2L375.0,573.0L375.8,548.8L376.5,526.1L377.6,523.0L378.5,532.1L379.5,559.4L380.3,570.0L381.1,583.6L381.8,588.2L382.6,583.6L383.3,565.5L384.5,542.7L385.6,538.2L386.7,542.7L387.9,573.0L389.0,592.7L390.2,595.8L391.3,592.7L392.8,594.2L394.3,595.8L395.8,597.3L397.4,595.0L398.9,595.8L400.4,594.2L401.9,595.8L403.4,593.5L404.9,595.0L406.5,595.8L408.7,594.2L410.2,591.2L411.5,577.6L413.0,550.3L414.5,524.5L415.5,522.3L417.1,523.0L418.1,524.5L419.0,550.3L420.1,577.6L421.2,592.7L422.4,595.8L423.9,595.8L425.5,596.5L427.0,594.2L428.5,597.3L430.1,595.0L432.3,596.5L434.6,597.3L436.9,595.8L437.9,589.7L438.8,573.0L439.8,554.8L440.7,553.3L441.6,559.4L442.2,570.0L442.9,583.6L444.0,594.2L445.2,595.8L446.7,592.0L448.2,594.2L449.8,592.7L451.3,594.2L452.0,591.2L453.1,573.0L454.0,542.7L454.9,524.5L456.1,523.0L457.0,529.1L457.6,550.3L458.5,565.5L459.6,588.2L460.7,595.8L461.9,596.5L463.5,596.5L464.7,589.7L465.8,579.1L466.8,573.0L468.1,577.6L468.8,586.7L469.9,594.2L471.8,595.8L474.1,597.3L475.6,595.8L477.2,594.2L478.7,595.8L480.9,597.3L483.2,598.0L484.7,595.8L486.2,594.2L487.8,595.8L489.0,597.3L490.0,583.6L490.8,550.3L491.5,523.0L492.3,523.0L493.8,535.2L494.6,527.6L495.3,522.3L496.1,547.3L496.8,580.6L497.6,591.2L499.1,595.8L502.3,598.0L503.8,596.5L505.3,595.8L507.6,595.0L509.1,594.2L510.6,595.0L512.9,594.2L514.4,596.5L515.9,591.2L517.0,583.6L517.9,578.3L518.8,585.2L519.7,592.7L521.2,593.5L523.5,593.5L525.5,593.0L527.0,593.0L527.4,522.4L532.9,522.4L533.7,565.5L534.0,583.9L534.6,592.7L535.2,595.0L539.6,595.0" fill="none" stroke="#0076ff" stroke-width="1" stroke-linejoin="miter" stroke-miterlimit="2" shape-rendering="crispEdges"/>
<path d="M297.5,310V420M298.5,310V420M335.5,310V420M337.5,310V420M373.5,310V420M375.5,310V420M411.5,310V420M412.5,310V420M448.5,310V420M449.5,310V420M484.5,310V420M485.5,310V420M499.5,310V420M501.5,310V420M519.5,310V420M520.5,310V420" stroke="#000" stroke-width="1" stroke-dasharray="2 2" fill="none"/>
<path d="M297.5,423V429M298.5,423V429M335.5,423V429M337.5,423V429M373.5,423V429M375.5,423V429M411.5,423V429M412.5,423V429M448.5,423V429M449.5,423V429M484.5,423V429M485.5,423V429M499.5,423V429M501.5,423V429M519.5,423V429M520.5,423V429" stroke="#000" stroke-width="1" fill="none"/>
<path d="M124.5,523V633M126.5,523V633M134.5,523V633M135.5,523V633M168.5,523V633M169.5,523V633M170.5,523V633M201.5,523V633M202.5,523V633M211.5,523V633M213.5,523V633M234.5,523V633M235.5,523V633M254.5,523V633M255.5,523V633M265.5,523V633M266.5,523V633M276.5,523V633M295.5,523V633M296.5,523V633M297.5,523V633M313.5,523V633M327.5,523V633M331.5,523V633M336.5,523V633M338.5,523V633M347.5,523V633M356.5,523V633M364.5,523V633M377.5,523V633M378.5,523V633M379.5,523V633M385.5,523V633M393.5,523V633M394.5,523V633M407.5,523V633M408.5,523V633M413.5,523V633M416.5,523V633M417.5,523V633M421.5,523V633M433.5,523V633M434.5,523V633M440.5,523V633M445.5,523V633M446.5,523V633M455.5,523V633M456.5,523V633M457.5,523V633M467.5,523V633M476.5,523V633M477.5,523V633M485.5,523V633M486.5,523V633M493.5,523V633M494.5,523V633M501.5,523V633M502.5,523V633M508.5,523V633M509.5,523V633M518.5,523V633M525.5,523V633M530.5,523V633M531.5,523V633" stroke="#000" stroke-width="1" stroke-dasharray="2 2" fill="none"/>
<path d="M124.5,636V642M126.5,636V642M134.5,636V642M135.5,636V642M168.5,636V642M169.5,636V642M170.5,636V642M201.5,636V642M202.5,636V642M211.5,636V642M213.5,636V642M234.5,636V642M235.5,636V642M254.5,636V642M255.5,636V642M265.5,636V642M266.5,636V642M276.5,636V642M295.5,636V642M296.5,636V642M297.5,636V642M313.5,636V642M327.5,636V642M331.5,636V642M336.5,636V642M338.5,636V642M347.5,636V642M356.5,636V642M364.5,636V642M377.5,636V642M378.5,636V642M379.5,636V642M385.5,636V642M393.5,636V642M394.5,636V642M407.5,636V642M408.5,636V642M413.5,636V642M416.5,636V642M417.5,636V642M421.5,636V642M433.5,636V642M434.5,636V642M440.5,636V642M445.5,636V642M446.5,636V642M455.5,636V642M456.5,636V642M457.5,636V642M467.5,636V642M476.5,636V642M477.5,636V642M485.5,636V642M486.5,636V642M493.5,636V642M494.5,636V642M501.5,636V642M502.5,636V642M508.5,636V642M509.5,636V642M518.5,636V642M525.5,636V642M530.5,636V642M531.5,636V642" stroke="#000" stroke-width="1" fill="none"/>
<text x="557" y="85.0" font-family='"Liberation Sans", Arial, sans-serif' font-size="6.9" fill="#ff0028" stroke="#ff0028" stroke-width="0.3" textLength="22.8" lengthAdjust="spacingAndGlyphs">NS O2</text>
<text x="557" y="90.1" font-family='"Liberation Sans", Arial, sans-serif' font-size="6.9" fill="#00c8c8" stroke="#00c8c8" stroke-width="0.3" textLength="23.9" lengthAdjust="spacingAndGlyphs">NS OH</text>
<text x="557" y="95.2" font-family='"Liberation Sans", Arial, sans-serif' font-size="6.9" fill="#c800c8" stroke="#c800c8" stroke-width="0.3" textLength="17.6" lengthAdjust="spacingAndGlyphs">UNID</text>
<text x="557" y="216.0" font-family='"Liberation Sans", Arial, sans-serif' font-size="6.9" fill="#000000" stroke="#000000" stroke-width="0.3" textLength="11.2" lengthAdjust="spacingAndGlyphs">CN</text>
<text x="557" y="222.0" font-family='"Liberation Sans", Arial, sans-serif' font-size="6.9" fill="#ff0000" stroke="#ff0000" stroke-width="0.3" textLength="11.2" lengthAdjust="spacingAndGlyphs">CH</text>
<text x="557" y="228.1" font-family='"Liberation Sans", Arial, sans-serif' font-size="6.9" fill="#0078ff" stroke="#0078ff" stroke-width="0.3" textLength="10.0" lengthAdjust="spacingAndGlyphs">C3</text>
<text x="557" y="234.1" font-family='"Liberation Sans", Arial, sans-serif' font-size="6.9" fill="#00ff00" stroke="#00ff00" stroke-width="0.3" textLength="10.0" lengthAdjust="spacingAndGlyphs">C2</text>
<text x="557" y="240.1" font-family='"Liberation Sans", Arial, sans-serif' font-size="6.9" fill="#ff8c00" stroke="#ff8c00" stroke-width="0.3" textLength="15.0" lengthAdjust="spacingAndGlyphs">NH2</text>
<text x="557" y="246.2" font-family='"Liberation Sans", Arial, sans-serif' font-size="6.9" fill="#8000ff" stroke="#8000ff" stroke-width="0.3" textLength="19.8" lengthAdjust="spacingAndGlyphs">H2O+</text>
<text x="557" y="252.2" font-family='"Liberation Sans", Arial, sans-serif' font-size="6.9" fill="#807800" stroke="#807800" stroke-width="0.3" textLength="15.0" lengthAdjust="spacingAndGlyphs">CH+</text>
<text x="557" y="297.2" font-family='"Liberation Sans", Arial, sans-serif' font-size="6.9" fill="#ff0028" stroke="#ff0028" stroke-width="0.3" textLength="22.8" lengthAdjust="spacingAndGlyphs">NS O2</text>
<text x="557" y="302.3" font-family='"Liberation Sans", Arial, sans-serif' font-size="6.9" fill="#00c8c8" stroke="#00c8c8" stroke-width="0.3" textLength="23.9" lengthAdjust="spacingAndGlyphs">NS OH</text>
<text x="557" y="307.4" font-family='"Liberation Sans", Arial, sans-serif' font-size="6.9" fill="#c800c8" stroke="#c800c8" stroke-width="0.3" textLength="17.6" lengthAdjust="spacingAndGlyphs">UNID</text>
<text x="557" y="428.2" font-family='"Liberation Sans", Arial, sans-serif' font-size="6.9" fill="#000000" stroke="#000000" stroke-width="0.3" textLength="11.2" lengthAdjust="spacingAndGlyphs">CN</text>
<text x="557" y="434.2" font-family='"Liberation Sans", Arial, sans-serif' font-size="6.9" fill="#ff0000" stroke="#ff0000" stroke-width="0.3" textLength="11.2" lengthAdjust="spacingAndGlyphs">CH</text>
<text x="557" y="440.3" font-family='"Liberation Sans", Arial, sans-serif' font-size="6.9" fill="#0078ff" stroke="#0078ff" stroke-width="0.3" textLength="10.0" lengthAdjust="spacingAndGlyphs">C3</text>
<text x="557" y="446.3" font-family='"Liberation Sans", Arial, sans-serif' font-size="6.9" fill="#00ff00" stroke="#00ff00" stroke-width="0.3" textLength="10.0" lengthAdjust="spacingAndGlyphs">C2</text>
<text x="557" y="452.3" font-family='"Liberation Sans", Arial, sans-serif' font-size="6.9" fill="#ff8c00" stroke="#ff8c00" stroke-width="0.3" textLength="15.0" lengthAdjust="spacingAndGlyphs">NH2</text>
<text x="557" y="458.4" font-family='"Liberation Sans", Arial, sans-serif' font-size="6.9" fill="#8000ff" stroke="#8000ff" stroke-width="0.3" textLength="19.8" lengthAdjust="spacingAndGlyphs">H2O+</text>
<text x="557" y="464.4" font-family='"Liberation Sans", Arial, sans-serif' font-size="6.9" fill="#807800" stroke="#807800" stroke-width="0.3" textLength="15.0" lengthAdjust="spacingAndGlyphs">CH+</text>
<text x="557" y="509.9" font-family='"Liberation Sans", Arial, sans-serif' font-size="6.9" fill="#ff0028" stroke="#ff0028" stroke-width="0.3" textLength="22.8" lengthAdjust="spacingAndGlyphs">NS O2</text>
<text x="557" y="515.0" font-family='"Liberation Sans", Arial, sans-serif' font-size="6.9" fill="#00c8c8" stroke="#00c8c8" stroke-width="0.3" textLength="23.9" lengthAdjust="spacingAndGlyphs">NS OH</text>
<text x="557" y="520.1" font-family='"Liberation Sans", Arial, sans-serif' font-size="6.9" fill="#c800c8" stroke="#c800c8" stroke-width="0.3" textLength="17.6" lengthAdjust="spacingAndGlyphs">UNID</text>
<text x="557" y="640.9" font-family='"Liberation Sans", Arial, sans-serif' font-size="6.9" fill="#000000" stroke="#000000" stroke-width="0.3" textLength="11.2" lengthAdjust="spacingAndGlyphs">CN</text>
<text x="557" y="646.9" font-family='"Liberation Sans", Arial, sans-serif' font-size="6.9" fill="#ff0000" stroke="#ff0000" stroke-width="0.3" textLength="11.2" lengthAdjust="spacingAndGlyphs">CH</text>
<text x="557" y="653.0" font-family='"Liberation Sans", Arial, sans-serif' font-size="6.9" fill="#0078ff" stroke="#0078ff" stroke-width="0.3" textLength="10.0" lengthAdjust="spacingAndGlyphs">C3</text>
<text x="557" y="659.0" font-family='"Liberation Sans", Arial, sans-serif' font-size="6.9" fill="#00ff00" stroke="#00ff00" stroke-width="0.3" textLength="10.0" lengthAdjust="spacingAndGlyphs">C2</text>
<text x="557" y="665.0" font-family='"Liberation Sans", Arial, sans-serif' font-size="6.9" fill="#ff8c00" stroke="#ff8c00" stroke-width="0.3" textLength="15.0" lengthAdjust="spacingAndGlyphs">NH2</text>
<text x="557" y="671.0" font-family='"Liberation Sans", Arial, sans-serif' font-size="6.9" fill="#8000ff" stroke="#8000ff" stroke-width="0.3" textLength="19.8" lengthAdjust="spacingAndGlyphs">H2O+</text>
<text x="557" y="677.1" font-family='"Liberation Sans", Arial, sans-serif' font-size="6.9" fill="#807800" stroke="#807800" stroke-width="0.3" textLength="15.0" lengthAdjust="spacingAndGlyphs">CH+</text>
</svg></body></html>
